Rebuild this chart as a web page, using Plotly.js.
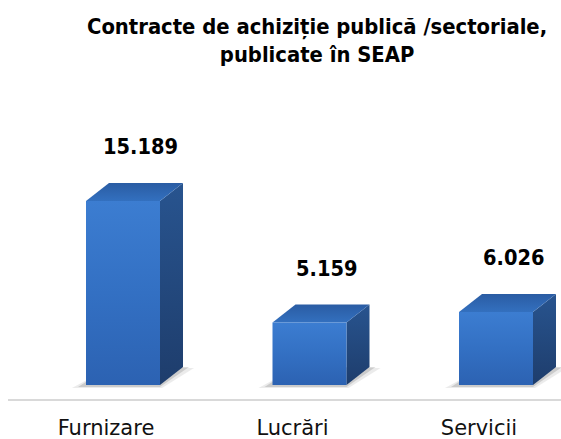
<!DOCTYPE html>
<html>
<head>
<meta charset="utf-8">
<script src="https://cdn.plot.ly/plotly-3.0.1.min.js"></script>
<style>
  html, body { margin: 0; padding: 0; background: #ffffff; }
  #chart { width: 561px; height: 439px; }
</style>
</head>
<body>
<div id="chart"></div>
<script>
// ---- data ----
const categories = ['Furnizare', 'Lucrări', 'Servicii'];
const values = [15189, 5159, 6026];
const valueLabels = ['15.189', '5.159', '6.026'];
const chartTitle = 'Contracte de achiziție publică /sectoriale,<br>publicate în SEAP';

// ---- geometry (style) ----
const W = 561, H = 439;
const margin = { l: 8, r: 0, t: 0, b: 40 };
const plotW = W - margin.l - margin.r;
const plotH = H - margin.t - margin.b;
const pxPerCat = 186.5;            // px per category
const unitsPerPxY = 82.5;          // value units per px
const zeroFromBottom = 14;         // px from plot bottom to zero
const firstCenterPx = 123 - margin.l;
const xr0 = -firstCenterPx / pxPerCat;
const xr1 = xr0 + plotW / pxPerCat;
const yr0 = -zeroFromBottom * unitsPerPxY;
const yr1 = yr0 + plotH * unitsPerPxY;

const px = p => p / pxPerCat;      // px -> x units
const py = p => p * unitsPerPxY;   // px -> y units

const halfW = px(37);
const dX = px(23);
const dY = py(18);

const traces = [];
function poly(xs, ys, opts) {
  traces.push(Object.assign({
    type: 'scatter', mode: 'lines', x: xs.concat([xs[0]]), y: ys.concat([ys[0]]),
    fill: 'toself', line: { width: 0, color: 'rgba(0,0,0,0)' },
    hoverinfo: 'skip', showlegend: false
  }, opts));
}

values.forEach((v, i) => {
  const xl = i - halfW, xrt = i + halfW;
  // soft floor shadow
  poly([xl - px(14), xrt + px(2), xrt + dX + px(11), xl + dX],
       [-py(3), -py(3), dY - py(1), dY - py(1)],
       { fillcolor: 'rgba(60,60,60,0.10)' });
  poly([xl - px(8), xrt, xrt + dX + px(6), xl + dX],
       [-py(2), -py(2), dY, dY],
       { fillcolor: 'rgba(60,60,60,0.18)' });
  // side face
  poly([xrt, xrt + dX, xrt + dX, xrt], [0, dY, v + dY, v],
       { fillcolor: '#234a82',
         fillgradient: { type: 'vertical', colorscale: [[0, '#1e3d6c'], [1, '#28548f']] } });
  // top face
  poly([xl, xrt, xrt + dX, xl + dX], [v, v, v + dY, v + dY],
       { fillcolor: '#2f66b2',
         fillgradient: { type: 'vertical', colorscale: [[0, '#3370bf'], [1, '#2a5ca3']] } });
  // front face
  poly([xl, xrt, xrt, xl], [0, 0, v, v],
       { fillcolor: '#3370c3',
         fillgradient: { type: 'vertical', colorscale: [[0, '#2c62b2'], [0.5, '#3370c3'], [1, '#3c7dd1']] } });
});

const annotations = values.map((v, i) => ({
  x: i + px(17), y: v + py(54), xref: 'x', yref: 'y',
  text: '<b>' + valueLabels[i] + '</b>', showarrow: false,
  xanchor: 'center', yanchor: 'middle',
  font: { family: 'DejaVu Sans Condensed', size: 21.6, color: '#000000' }
}));

annotations.push({
  x: (316.5 - margin.l) / plotW, y: 1 - 40 / plotH, xref: 'paper', yref: 'paper',
  text: '<b>' + chartTitle + '</b>', showarrow: false,
  xanchor: 'center', yanchor: 'middle', align: 'center',
  font: { family: 'DejaVu Sans Condensed', size: 21.8, color: '#000000' }
});

const layout = {
  width: W, height: H,
  margin: margin,
  paper_bgcolor: '#ffffff', plot_bgcolor: '#ffffff',
  showlegend: false,
  xaxis: {
    range: [xr0, xr1], fixedrange: true,
    tickvals: categories.map((c, i) => i - px(17)),
    ticktext: categories,
    tickfont: { family: 'DejaVu Sans', size: 21, color: '#111111' },
    showgrid: false, zeroline: false,
    showline: true, linecolor: '#d9d9d9', linewidth: 2,
    ticks: '', ticklabelstandoff: 9
  },
  yaxis: {
    range: [yr0, yr1], fixedrange: true,
    visible: false, showgrid: false, zeroline: false
  },
  annotations: annotations
};

Plotly.newPlot('chart', traces, layout, { displayModeBar: false, staticPlot: true });
</script>
</body>
</html>
